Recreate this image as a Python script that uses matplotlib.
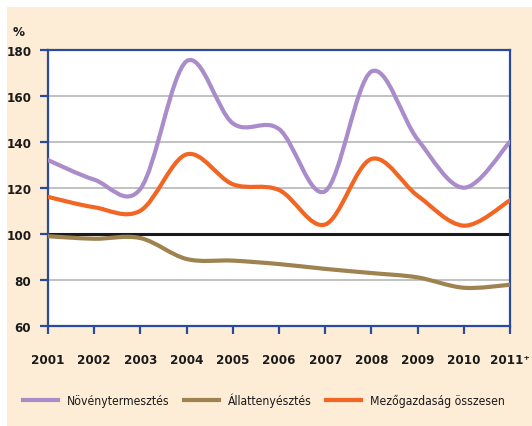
import numpy as np
import matplotlib
matplotlib.use("Agg")
import matplotlib.pyplot as plt
from matplotlib.path import Path
from matplotlib.patches import PathPatch, Rectangle
from matplotlib.lines import Line2D

# data (index values, %)
years = [2001, 2002, 2003, 2004, 2005, 2006, 2007, 2008, 2009, 2010, 2011]
year_labels = ["2001", "2002", "2003", "2004", "2005", "2006", "2007",
               "2008", "2009", "2010", "2011\u207a"]
novenyterm = [132, 123.5, 119.5, 175, 148, 145.5, 118.5, 170.5, 141, 120, 140]
allatteny = [98.9, 97.8, 98.1, 89, 88.3, 86.8, 84.7, 82.9, 81, 76.5, 77.8]
osszesen = [116, 111.5, 110, 134.5, 121.5, 119, 104, 132.5, 116.5, 103.5, 114.5]
y_ticks = [60, 80, 100, 120, 140, 160, 180]

CREAM = "#feedd6"
SPINE = "#2c4a9a"
PURPLE = "#a98cc9"
BROWN = "#9e8350"
ORANGE = "#f26522"
TEXT = "#1a1a1a"

plt.rcParams['font.family'] = ['DejaVu Sans']
plt.rcParams['font.stretch'] = 'condensed'


def smooth_path(xs, ys):
    # excel-like smoothed line: catmull-rom segments as cubic beziers
    pts = np.column_stack([xs, ys]).astype(float)
    ext = np.vstack([pts[0], pts, pts[-1]])
    verts = [tuple(pts[0])]
    codes = [Path.MOVETO]
    for i in range(1, len(ext) - 2):
        p0, p1, p2, p3 = ext[i - 1], ext[i], ext[i + 1], ext[i + 2]
        c1 = p1 + (p2 - p0) / 6.0
        c2 = p2 - (p3 - p1) / 6.0
        verts += [tuple(c1), tuple(c2), tuple(p2)]
        codes += [Path.CURVE4] * 3
    return Path(verts, codes)


fig = plt.figure(figsize=(5.32, 4.27), dpi=100)
fig.patch.set_facecolor("white")
fig.patches.append(Rectangle((7 / 532, 0), 1, 1 - 8 / 427, transform=fig.transFigure,
                             facecolor=CREAM, edgecolor="none", zorder=-10))

ax = fig.add_axes([48 / 532, 1 - 326.7 / 427, 462 / 532, 276 / 427])
ax.set_facecolor("white")
ax.set_xlim(years[0], years[-1])
ax.set_ylim(60, 180)

for v in y_ticks:
    if v in (60, 180):
        continue
    if v == 100:
        ax.axhline(v, color=TEXT, lw=2.2, zorder=2)
    else:
        ax.axhline(v, color="#b0b0b0", lw=1.1, zorder=1)

series = [
    (novenyterm, PURPLE, "Növénytermesztés"),
    (allatteny, BROWN, "Állattenyésztés"),
    (osszesen, ORANGE, "Mezőgazdaság összesen"),
]
handles = []
for vals, col, lab in series:
    ax.add_patch(PathPatch(smooth_path(years, vals), facecolor="none",
                           edgecolor=col, lw=3.0, capstyle="round", zorder=3))
    handles.append(Line2D([], [], color=col, lw=3.0, label=lab))

for s in ax.spines.values():
    s.set_color(SPINE)
    s.set_linewidth(1.6)

ax.set_xticks(years)
ax.set_xticklabels(year_labels)
ax.set_yticks(y_ticks)
ax.tick_params(axis="both", direction="out", color=SPINE, width=1.6, length=6)
ax.tick_params(axis="x", pad=14, labelsize=9.5)
ax.tick_params(axis="y", pad=6, labelsize=9.5)
for t in ax.get_xticklabels() + ax.get_yticklabels():
    t.set_fontweight("bold")
    t.set_color(TEXT)

fig.text(13 / 532, 1 - 33 / 427, "%", fontsize=9.5, fontweight="bold",
         color=TEXT, va="center", ha="left")

fig.legend(handles=handles, loc="center", bbox_to_anchor=(264 / 532, 1 - 401 / 427),
           ncol=3, frameon=False, fontsize=8.7, handlelength=2.9,
           handletextpad=0.75, columnspacing=1.15, labelcolor=TEXT)

fig.savefig("out.png", dpi=100, facecolor=fig.get_facecolor())
